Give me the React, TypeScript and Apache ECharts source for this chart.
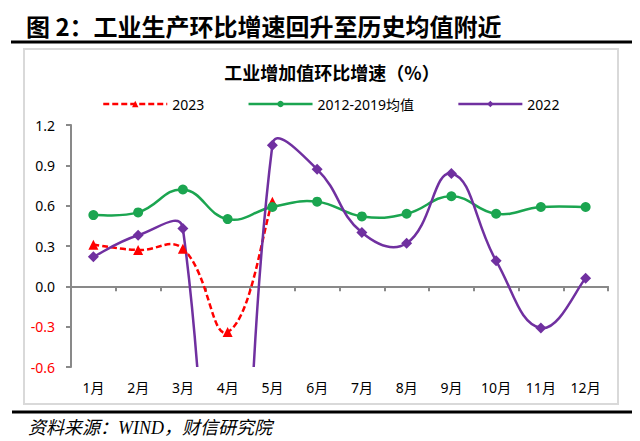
import React, { useEffect, useRef } from "react";
import * as echarts from "echarts";

const months = ["1月", "2月", "3月", "4月", "5月", "6月", "7月", "8月", "9月", "10月", "11月", "12月"];
const s2023 = [0.31, 0.27, 0.28, -0.34, 0.63];
const sAvg = [0.53, 0.55, 0.72, 0.5, 0.59, 0.63, 0.52, 0.54, 0.67, 0.54, 0.59, 0.59];
const s2022 = [0.22, 0.38, 0.43, -4.5, 1.05, 0.87, 0.4, 0.32, 0.84, 0.19, -0.31, 0.06];
const yMin = -0.6;
const yMax = 1.2;
const yStep = 0.3;
const seriesNames = ["2023", "2012-2019均值", "2022"];

const mainTitle = "图 2：工业生产环比增速回升至历史均值附近";
const chartTitle = "工业增加值环比增速（%）";
const sourceText = "资料来源：WIND，财信研究院";

const axisGray = "#898989";
const latin = "'Noto Sans', 'Noto Sans CJK SC', sans-serif";
const cRed = "#FF0000";
const cGreen = "#1BA550";
const cPurple = "#7030A0";
const TENSION = 0.44;

const SmoothCurve = (echarts.graphic as any).extendShape({
  shape: { segs: [] as number[][] },
  buildPath(ctx: any, shape: any) {
    const s = shape.segs;
    if (!s || !s.length) return;
    ctx.moveTo(s[0][0], s[0][1]);
    for (const g of s) ctx.bezierCurveTo(g[2], g[3], g[4], g[5], g[6], g[7]);
  },
});
(echarts.graphic as any).registerShape("smoothCurve", SmoothCurve);

function buildSegs(pts: number[][]): number[][] {
  const n = pts.length;
  const cpPrev: number[][] = [];
  const cpNext: number[][] = [];
  for (let i = 0; i < n; i++) {
    const p = pts[i];
    const prev = pts[i - 1] || p;
    const next = pts[i + 1] || p;
    const vx = next[0] - prev[0];
    const vy = next[1] - prev[1];
    const dPrev = Math.hypot(p[0] - prev[0], p[1] - prev[1]);
    const dNext = Math.hypot(next[0] - p[0], next[1] - p[1]);
    const sum = dPrev + dNext || 1;
    let rp = dPrev / sum;
    let rn = dNext / sum;
    if (i === 0 || i === n - 1) {
      rp *= 0.5;
      rn *= 0.5;
    }
    cpPrev.push([p[0] - vx * TENSION * rp, p[1] - vy * TENSION * rp]);
    cpNext.push([p[0] + vx * TENSION * rn, p[1] + vy * TENSION * rn]);
  }
  const segs: number[][] = [];
  for (let i = 0; i < n - 1; i++) {
    segs.push([
      pts[i][0], pts[i][1],
      cpNext[i][0], cpNext[i][1],
      cpPrev[i + 1][0], cpPrev[i + 1][1],
      pts[i + 1][0], pts[i + 1][1],
    ]);
  }
  return segs;
}

function curveSeries(id: string, values: number[], color: string, dash: any) {
  return {
    id,
    name: id,
    type: "custom",
    xAxisIndex: 0,
    clip: true,
    silent: true,
    data: [[0, values[0]]],
    renderItem: (_params: any, api: any) => {
      const pts = values.map((v, i) => api.coord([i, v]));
      return {
        type: "smoothCurve",
        shape: { segs: buildSegs(pts) },
        style: { fill: "none", stroke: color, lineWidth: 2.5, lineDash: dash },
      };
    },
  };
}

function markerSeries(name: string, values: number[], color: string, symbol: string, size: number) {
  return {
    name,
    type: "line",
    xAxisIndex: 0,
    data: values,
    symbol,
    symbolSize: size,
    showSymbol: true,
    lineStyle: { opacity: 0 },
    itemStyle: { color },
  };
}

export default function App() {
  const ref = useRef<HTMLDivElement>(null);
  useEffect(() => {
    if (!ref.current) return;
    const chart = echarts.init(ref.current, null, { renderer: "svg" });
    const fmt = (v: number) => (Math.abs(v) < 1e-9 ? "0.0" : v.toFixed(1));
    chart.setOption({
      animation: false,
      backgroundColor: "#fff",
      graphic: [
        {
          type: "text",
          x: 26,
          y: 25,
          style: {
            text: mainTitle,
            font: "bold 24px 'Noto Sans CJK SC'",
            fill: "#000",
            verticalAlign: "middle",
          },
        },
        {
          type: "line",
          shape: { x1: 11, y1: 42, x2: 632, y2: 42 },
          style: { stroke: "#000", lineWidth: 3 },
        },
        {
          type: "rect",
          z: -10,
          shape: { x: 24, y: 49, width: 594, height: 355 },
          style: { fill: "#fff", stroke: "#D9D9D9", lineWidth: 2 },
        },
        {
          type: "text",
          x: 332,
          y: 72,
          style: {
            text: chartTitle,
            font: "bold 18px 'Noto Sans CJK SC'",
            fill: "#000",
            align: "center",
            verticalAlign: "middle",
          },
        },
        {
          type: "line",
          shape: { x1: 12, y1: 412, x2: 632, y2: 412 },
          style: { stroke: "#000", lineWidth: 3 },
        },
        {
          type: "text",
          x: 28,
          y: 428,
          style: {
            text: sourceText,
            font: "italic 18px 'Liberation Serif', 'Noto Sans CJK SC'",
            fill: "#000",
            verticalAlign: "middle",
          },
        },
      ],
      legend: {
        data: [
          { name: seriesNames[0], lineStyle: { color: cRed, width: 2.5, type: [6, 3], opacity: 1 } },
          { name: seriesNames[1], lineStyle: { color: cGreen, width: 2.5, type: "solid", opacity: 1 } },
          { name: seriesNames[2], lineStyle: { color: cPurple, width: 2.5, type: "solid", opacity: 1 } },
        ],
        left: 97,
        top: 92,
        itemWidth: 64,
        itemHeight: 8,
        itemGap: 43,
        textStyle: { fontSize: 14, fontFamily: latin, color: "#000" },
      },
      grid: { left: 71, right: 32, top: 125, bottom: 74, containLabel: false },
      xAxis: [
        {
          type: "category",
          data: months,
          boundaryGap: true,
          axisLine: { show: true, onZero: true, lineStyle: { color: axisGray, width: 2 } },
          axisTick: { show: true, interval: 0, length: 5, lineStyle: { color: axisGray, width: 2 } },
          axisLabel: { show: false },
          splitLine: { show: false },
        },
        {
          type: "category",
          data: months,
          position: "bottom",
          boundaryGap: true,
          axisLine: { show: false, onZero: false },
          axisTick: { show: false },
          axisLabel: { show: true, interval: 0, fontSize: 14, margin: 13, color: "#000", fontFamily: latin },
          splitLine: { show: false },
        },
      ],
      yAxis: {
        type: "value",
        min: yMin,
        max: yMax,
        interval: yStep,
        axisLine: { show: true, lineStyle: { color: axisGray, width: 2 } },
        axisTick: { show: true, length: 5, lineStyle: { color: axisGray, width: 2 } },
        splitLine: { show: false },
        axisLabel: {
          margin: 16,
          fontSize: 14,
          fontFamily: latin,
          formatter: (v: number) => fmt(v),
          color: (v: any) => (Number(v) < -1e-9 ? "#FF0000" : "#000"),
        },
      },
      series: [
        curveSeries("c2023", s2023, cRed, [6, 3]),
        curveSeries("cAvg", sAvg, cGreen, null),
        curveSeries("c2022", s2022, cPurple, null),
        markerSeries(seriesNames[0], s2023, cRed, "triangle", 10),
        markerSeries(seriesNames[1], sAvg, cGreen, "circle", 10),
        markerSeries(seriesNames[2], s2022, cPurple, "diamond", 11),
      ],
    });
    return () => chart.dispose();
  }, []);
  return <div ref={ref} style={{ position: "fixed", left: 0, top: 0, width: 640, height: 441 }} />;
}
